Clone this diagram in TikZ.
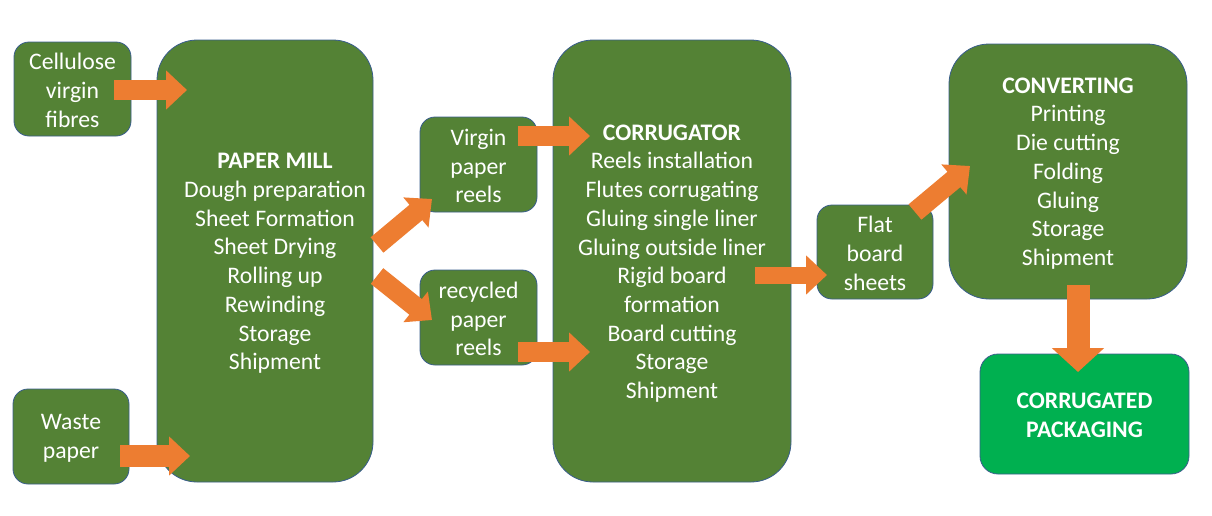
\documentclass[tikz,border=0pt]{standalone}
\usepackage{fontspec}
\setmainfont{Carlito}
\usetikzlibrary{arrows.meta}
\definecolor{boxgreen}{HTML}{548235}
\definecolor{brightgreen}{HTML}{00B050}
\definecolor{arroworange}{HTML}{ED7D31}
\definecolor{boxedge}{HTML}{3A5E8C}
\begin{document}
\begin{tikzpicture}[x=1pt,y=-1pt,
  box/.style={draw=boxedge, line width=0.8pt, fill=boxgreen, rounded corners=15pt, inner sep=0pt},
  bigbox/.style={box, rounded corners=40pt},
  label/.style={text=white, align=center, font=\fontsize{23.7}{28.7}\selectfont, inner sep=0pt},
  flow/.style={draw=arroworange, line width=20pt, -{Triangle[width=38pt,length=21pt]}},
  vflow/.style={draw=arroworange, line width=23pt, -{Triangle[width=51pt,length=24pt]}}]
\useasboundingbox (0,0) rectangle (1212,515);
\fill[white] (0,0) rectangle (1212,515);

% boxes
\node[box, minimum width=117pt, minimum height=94pt] (cell) at (72.5,89) {};
\node[label] (celltext) at (72.5,90.5) {Cellulose\\virgin\\fibres};
\node[box, minimum width=116pt, minimum height=95pt] (waste) at (71,436.5) {};
\node[label] (wastetext) at (71,438) {Waste\\paper};
\node[bigbox, minimum width=216pt, minimum height=442pt] (mill) at (265,261) {};
\node[label] (milltext) at (275,263.5) {\textbf{PAPER MILL}\\Dough preparation\\Sheet Formation\\Sheet Drying\\Rolling up\\Rewinding\\Storage\\Shipment};
\node[box, minimum width=117pt, minimum height=95pt] (virgin) at (478.5,164.5) {};
\node[label] (virgintext) at (478.5,166) {Virgin\\paper\\reels};
\node[box, minimum width=117pt, minimum height=95pt] (recyc) at (478.5,317.5) {};
\node[label] (recyctext) at (478.5,319) {recycled\\paper\\reels};
\node[bigbox, minimum width=238pt, minimum height=442pt] (corr) at (672,261) {};
\node[label] (corrtext) at (672,263.5) {\textbf{CORRUGATOR}\\Reels installation\\Flutes corrugating\\Gluing single liner\\Gluing outside liner\\Rigid board\\formation\\Board cutting\\Storage\\Shipment};
\node[box, minimum width=116pt, minimum height=94pt] (flat) at (875,252) {};
\node[label] (flattext) at (875,253.5) {Flat\\board\\sheets};
\node[bigbox, minimum width=238pt, minimum height=255pt] (conv) at (1068,171.5) {};
\node[label] (convtext) at (1068,173.5) {\textbf{CONVERTING}\\Printing\\Die cutting\\Folding\\Gluing\\Storage\\Shipment};
\node[box, fill=brightgreen, rounded corners=18pt, minimum width=209pt, minimum height=120pt] (pack) at (1084.5,414) {};
\node[label] (packtext) at (1084.5,415.5) {\textbf{CORRUGATED}\\\textbf{PACKAGING}};

% arrow end points
\coordinate (c1a) at (114,90);   \coordinate (c1b) at (187,90);
\coordinate (w1a) at (120,456);  \coordinate (w1b) at (190,456);
\coordinate (m1a) at (377,245);  \coordinate (m1b) at (432,199);
\coordinate (m2a) at (377,276);  \coordinate (m2b) at (432,320);
\coordinate (v1a) at (518,136);  \coordinate (v1b) at (590,136);
\coordinate (r1a) at (518,352);  \coordinate (r1b) at (590,352);
\coordinate (k1a) at (755,275);  \coordinate (k1b) at (827,275);
\coordinate (f1a) at (915,212);  \coordinate (f1b) at (970,166);
\coordinate (p1a) at (1078,285); \coordinate (p1b) at (1078,372);

\draw[flow] (c1a) -- (c1b);
\draw[flow, line width=22pt] (w1a) -- (w1b);
\draw[flow] (m1a) -- (m1b);
\draw[flow] (m2a) -- (m2b);
\draw[flow] (v1a) -- (v1b);
\draw[flow] (r1a) -- (r1b);
\draw[flow, line width=17pt] (k1a) -- (k1b);
\draw[flow] (f1a) -- (f1b);
\draw[vflow] (p1a) -- (p1b);
\end{tikzpicture}
\end{document}
